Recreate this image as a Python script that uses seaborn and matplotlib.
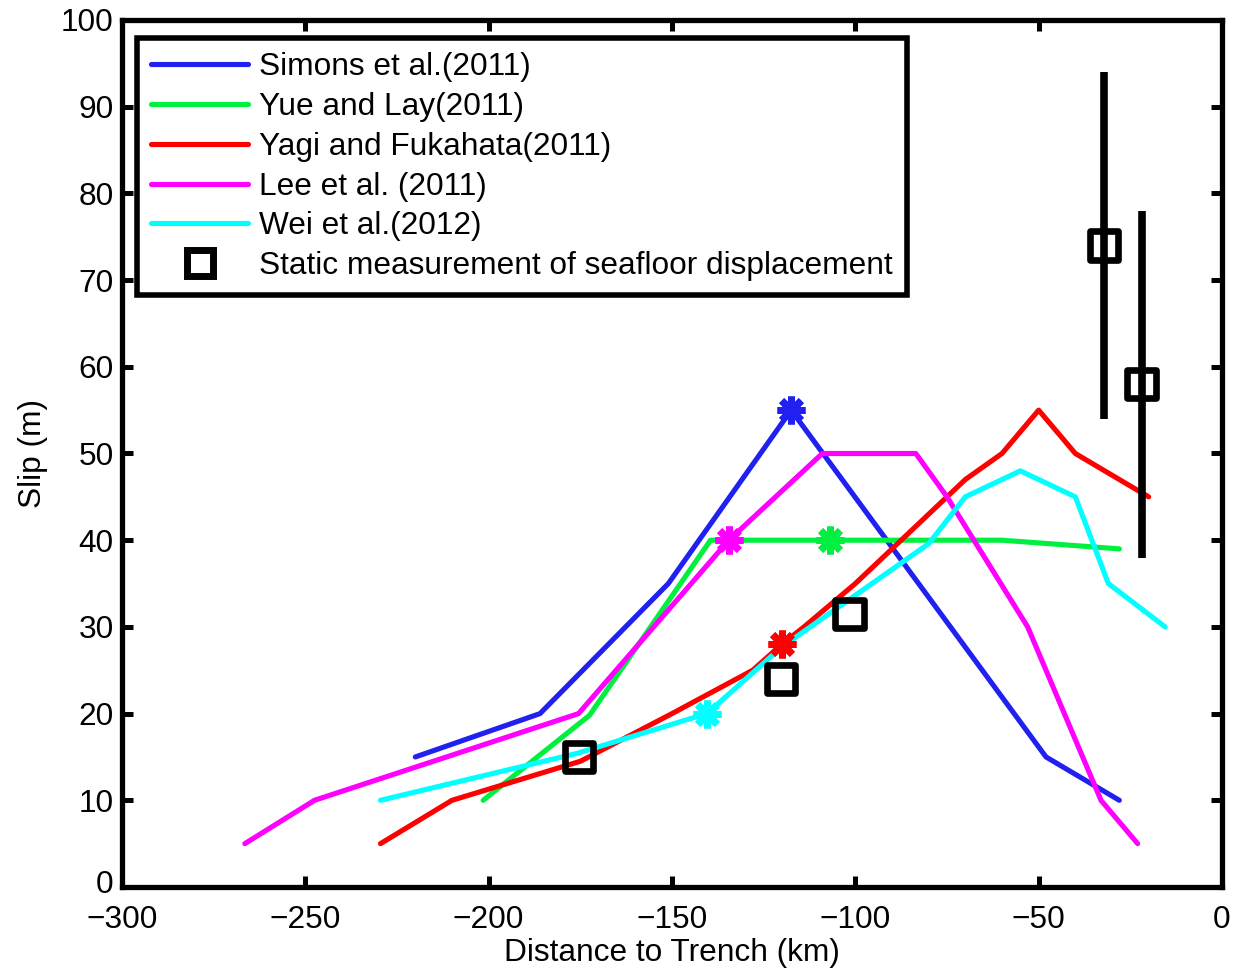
import numpy as np
import pandas as pd
import matplotlib
matplotlib.use("Agg")
import matplotlib.pyplot as plt
import matplotlib.transforms as mtransforms
import seaborn as sns
from matplotlib.lines import Line2D

# ---- data ----
simons_x = [-220, -186, -151, -117.5, -48, -28]
simons_y = [15, 20, 35, 55, 15, 10]

yue_x = [-201.5, -172.5, -139.5, -107, -60, -28]
yue_y = [10, 19.8, 40, 40, 40, 39]

yagi_x = [-229.5, -210, -175, -150, -128, -120, -114, -100, -80, -70, -60, -50, -40, -20]
yagi_y = [5, 10, 14.5, 20, 25, 28, 30, 35, 43, 47, 50, 55, 50, 45]

lee_x = [-266.5, -247.5, -175.5, -134.5, -109, -83.5, -75, -53, -33, -23]
lee_y = [5, 10, 20, 40, 50, 50, 45, 30, 10, 5]

wei_x = [-229.5, -176, -140.5, -120, -80, -70, -55, -40, -31, -15.5]
wei_y = [10, 15.4, 20, 27.7, 39.6, 45, 48, 45, 35, 30]

star_x = [-117.5, -107, -120, -134.5, -140.5]
star_y = [55, 40, 28, 40, 20]

static_x = [-175.4, -120.2, -101.6, -32.2, -21.9]
static_y = [15, 24, 31.5, 74, 58]
static_err = [0, 0, 0, 20, 20]

labels = ["Simons et al.(2011)", "Yue and Lay(2011)", "Yagi and Fukahata(2011)",
          "Lee et al. (2011)", "Wei et al.(2012)",
          "Static measurement of seafloor displacement"]
colors = ["#2020f0", "#00f040", "#ff0000", "#ff00ff", "#00ffff"]

xticks = [-300, -250, -200, -150, -100, -50, 0]
yticks = [0, 10, 20, 30, 40, 50, 60, 70, 80, 90, 100]

# ---- style ----
sns.set_style("ticks")
plt.rcParams['font.family'] = ['Liberation Sans', 'DejaVu Sans']
for k in ["text.color", "axes.labelcolor", "xtick.color", "ytick.color", "axes.edgecolor"]:
    plt.rcParams[k] = "black"
FS = 22.75

fig = plt.figure(figsize=(12.33, 9.72), dpi=100)
ax = fig.add_axes([122/1233, 1-887/972, 1100/1233, 867/972])

series = [(simons_x, simons_y), (yue_x, yue_y), (yagi_x, yagi_y), (lee_x, lee_y), (wei_x, wei_y)]
LW = 3.7
for (xs, ys), c, lab in zip(series, colors, labels[:5]):
    df = pd.DataFrame({"x": xs, "y": ys})
    sns.lineplot(data=df, x="x", y="y", sort=False, color=c, linewidth=LW, ax=ax,
                 estimator=None, legend=False)

# star markers
for sx, sy, c in zip(star_x, star_y, colors):
    ax.plot([sx], [sy], linestyle="none", marker=(8, 2, 0), markersize=20,
            markeredgewidth=5, color=c, zorder=5)

# static measurements with error bars
for x, y, e in zip(static_x, static_y, static_err):
    if e > 0:
        ax.errorbar([x], [y], yerr=[e], fmt="none", ecolor="black",
                    elinewidth=5.5, capsize=0, zorder=6)
sns.scatterplot(x=static_x, y=static_y, marker="s", s=420, facecolors="none",
                edgecolor="black", linewidth=4.8, ax=ax, zorder=7, legend=False)
for coll in ax.collections[-1:]:
    coll.set_facecolor("none")
    coll.set_edgecolor("black")

ax.set_xlim(-300, 0)
ax.set_ylim(0, 100)
ax.set_xticks(xticks)
ax.set_yticks(yticks)
ax.set_xticklabels([("\u2212" + str(abs(t))) if t < 0 else str(t) for t in xticks])
ax.set_yticklabels([str(t) for t in yticks])
ax.tick_params(direction="in", length=8, width=3.6, top=True, right=True,
               labelsize=FS)
ax.tick_params(axis="x", pad=13)
ax.tick_params(axis="y", pad=6)
# nudge the y "0" label up slightly so it clears the "-300" label
lab0 = ax.get_yticklabels()[0]
lab0.set_transform(lab0.get_transform() +
                   mtransforms.ScaledTranslation(0, 4/72, fig.dpi_scale_trans))
for s in ax.spines.values():
    s.set_linewidth(3.8)
    s.set_color("black")
    s.set_visible(True)
ax.set_xlabel("Distance to Trench (km)", fontsize=FS, labelpad=2)
ax.set_ylabel("Slip (m)", fontsize=FS, labelpad=9)

handles = [Line2D([0], [0], color=c, linewidth=LW) for c in colors]
handles.append(Line2D([0], [0], linestyle="none", marker="s", markersize=19,
                      markerfacecolor="none", markeredgecolor="black",
                      markeredgewidth=5))
leg = ax.legend(handles, labels, loc="upper left", bbox_to_anchor=(15/1100, 1-18/867),
                borderaxespad=0, fontsize=FS, frameon=True, fancybox=False,
                handlelength=3.07, handletextpad=0.35, labelspacing=0.31,
                borderpad=0.45, framealpha=1)
leg.get_frame().set_edgecolor("black")
leg.get_frame().set_linewidth(4)
leg.set_zorder(10)

fig.savefig("out.png", dpi=100)
